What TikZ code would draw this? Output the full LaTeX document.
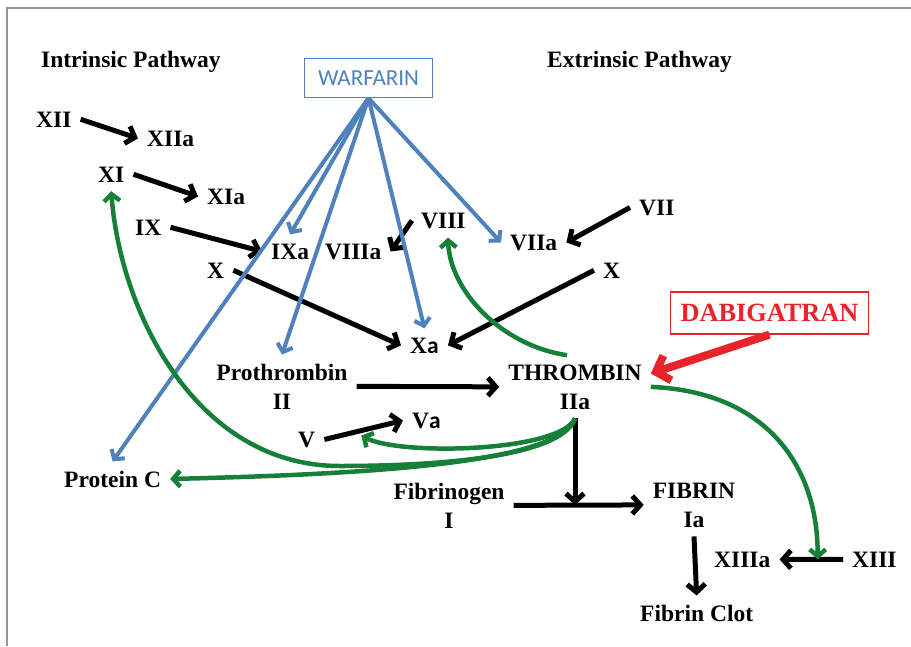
\documentclass[tikz,border=0pt]{standalone}
\usepackage{fontspec}
\setmainfont{Liberation Serif}
\newfontfamily\calib{Carlito}
\usetikzlibrary{arrows.meta,calc}
\definecolor{warfBlue}{HTML}{4F81BD}
\definecolor{dabiRed}{HTML}{E8242A}
\definecolor{fbGreen}{HTML}{178038}
\definecolor{frameGray}{HTML}{9A958F}

\begin{document}
\begin{tikzpicture}[x=1pt,y=-1pt,
  lbl/.style={inner sep=9pt,font=\fontsize{23.5}{29}\selectfont\bfseries,align=center},
  lblw/.style={lbl,anchor=base west},
  blk/.style={-{Straight Barb[length=8pt,width=18pt]},line width=5pt,black},
  blu/.style={-{Straight Barb[length=7pt,width=16pt]},line width=4pt,warfBlue},
  grn/.style={-{Straight Barb[length=7pt,width=16pt]},line width=4.5pt,fbGreen},
  drug/.style={draw,line width=1.5pt}]
  \useasboundingbox (0,0) rectangle (911,646);
  \draw[frameGray,line width=2.5pt] (7,646) -- (7,8) -- (911,8);
  % headings and drugs
  \node[lblw] (intr) at (32,67) {Intrinsic Pathway};
  \node[lblw] (extr) at (538,67) {Extrinsic Pathway};
  \node[drug,draw=warfBlue,text=warfBlue,font=\calib\fontsize{23}{28}\selectfont,
    inner xsep=13.5pt,inner ysep=12pt] (warf) at (368.5,78) {WARFARIN};
  \node[drug,draw=dabiRed,text=dabiRed,font=\fontsize{26.3}{32}\selectfont\bfseries,
    inner xsep=10pt,inner ysep=12pt] (dabi) at (769.5,313) {DABIGATRAN};
  % factors
  \node[lblw] (xii) at (27,127) {XII};
  \node[lblw] (xiia) at (138,146) {XIIa};
  \node[lblw] (xi) at (89,182) {XI};
  \node[lblw] (xia) at (198,204) {XIa};
  \node[lblw] (ix) at (126,235) {IX};
  \node[lblw] (ixa) at (262,259) {IXa};
  \node[lblw] (viiia) at (316,259) {VIIIa};
  \node[lblw] (viii) at (412,228) {VIII};
  \node[lblw] (viia) at (501,250) {VIIa};
  \node[lblw] (vii) at (630,215) {VII};
  \node[lblw] (xl) at (198,278) {X};
  \node[lblw] (xr) at (594,278) {X};
  \node[lblw] (xa) at (401,353) {X{\calib a}};
  \node[lbl,anchor=base] (pro) at (282,409) {Prothrombin\\II};
  \node[lbl,anchor=base] (thr) at (575,409) {THROMBIN\\IIa};
  \node[lblw] (v) at (289,447) {V};
  \node[lblw] (va) at (403,428) {V{\calib a}};
  \node[lblw] (protc) at (55,487) {Protein C};
  \node[lbl,anchor=base] (fbg) at (449,528) {Fibrinogen\\I};
  \node[lbl,anchor=base] (fib) at (694,527) {FIBRIN\\Ia};
  \node[lblw] (xiiia) at (705,567) {XIIIa};
  \node[lblw] (xiii) at (843,567) {XIII};
  \node[lblw] (clot) at (631,621) {Fibrin Clot};
  % cascade
  \foreach \a/\b in {xii.east/xiia.west,xi.east/xia.west,ix.east/ixa.west,
      xl.east/xa.west,xr.west/xa.east,vii.west/viia.east,viii.west/viiia.east,
      v.east/va.west,pro.east/thr.west,fbg.east/fib.west,fib.south/clot.north,
      xiii.west/xiiia.east}
    \draw[blk] (\a) -- (\b);
  \draw[blk] (thr.south) -- (thr.south |- fib.west);
  % warfarin targets
  \foreach \t in {ixa.north,pro.north,xa.north,viia.west,protc.north}
    \draw[blu] (warf.south) -- (\t);
  \draw[dabiRed,line width=8pt,-{Straight Barb[length=12pt,width=26pt]}] (dabi.south) -- (thr.10);
  % thrombin feedback
  \coordinate (vmid) at ($(v.east)!0.47!(va.west)+(0,5)$);
  \coordinate (xiiimid) at ($(xiii.west)!0.4!(xiiia.east)$);
  \draw[grn] (thr.south) .. controls (560,460) and (420,466) .. (340,466)
    .. controls (195,466) and (120,310) .. (xi.south);
  \draw[grn] (thr.south) .. controls (560,462) and (380,474) .. (protc.east);
  \draw[grn] (thr.south) .. controls (560,452) and (400,456) .. (vmid);
  \draw[grn] (thr.east) .. controls (770,392) and (818,470) .. (xiiimid);
  \draw[grn] ([xshift=-8pt]thr.north) .. controls (500,345) and (450,290) .. (viii.-75);
\end{tikzpicture}
\end{document}
